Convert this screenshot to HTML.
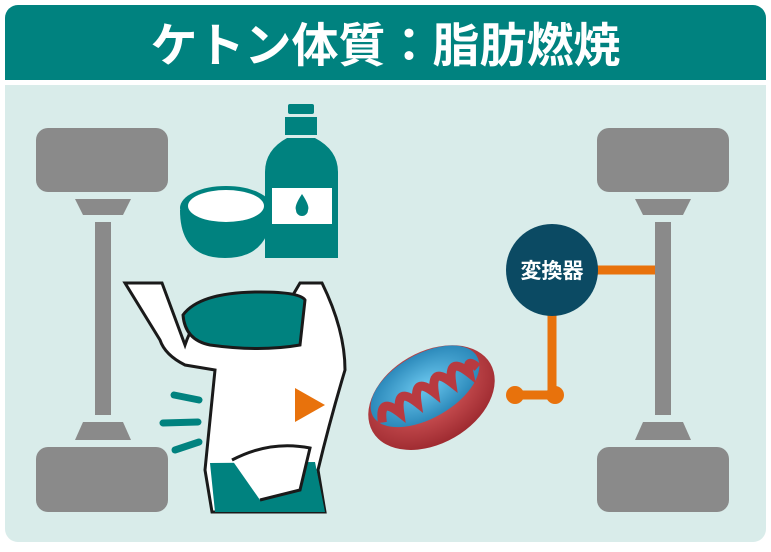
<!DOCTYPE html>
<html><head><meta charset="utf-8"><style>
html,body{margin:0;padding:0;background:#fff;}
body{width:771px;height:547px;overflow:hidden;position:relative;font-family:"Liberation Sans","Noto Sans CJK JP",sans-serif;}
</style></head><body>
<svg width="771" height="547" viewBox="0 0 771 547" xmlns="http://www.w3.org/2000/svg">
<defs>
<radialGradient id="mr" cx="0.5" cy="0.4" r="0.6"><stop offset="0" stop-color="#e86a6a"/><stop offset="1" stop-color="#9e2a30"/></radialGradient>
<radialGradient id="mb" cx="0.5" cy="0.5" r="0.6"><stop offset="0" stop-color="#6cc8ef"/><stop offset="1" stop-color="#1f7db0"/></radialGradient>
</defs>
<rect x="5" y="5" width="761" height="537" rx="13" fill="#d9ecea"/>
<path d="M5 80 V18 a13 13 0 0 1 13 -13 H753 a13 13 0 0 1 13 13 V80 Z" fill="#00827f"/>
<rect x="5" y="80" width="761" height="5" fill="#fff"/>
<text x="385.5" y="62" text-anchor="middle" font-size="47" font-weight="bold" fill="#fff" font-family="Liberation Sans,Noto Sans CJK JP,sans-serif">ケトン体質：脂肪燃焼</text>
<g fill="#8a8a8a">
<rect x="36" y="128" width="132" height="64" rx="12"/>
<polygon points="75,199 131,199 123,215 83,215"/>
<rect x="95" y="222" width="16" height="193"/>
<polygon points="83,422 123,422 131,440 75,440"/>
<rect x="36" y="447" width="132" height="65" rx="12"/>
<rect x="597" y="128" width="132" height="64" rx="12"/>
<polygon points="635,199 691,199 683,215 643,215"/>
<rect x="655" y="222" width="16" height="193"/>
<polygon points="643,422 683,422 691,440 635,440"/>
<rect x="597" y="447" width="132" height="65" rx="12"/>
</g>
<g stroke="#e8720c" stroke-width="9" fill="none">
<line x1="590" y1="270" x2="655" y2="270"/>
<polyline points="552,310 552,395 515,395"/>
</g>
<circle cx="515" cy="395" r="9" fill="#e8720c"/>
<circle cx="555" cy="395" r="9" fill="#e8720c"/>
<circle cx="552" cy="270" r="46" fill="#0b4a63"/>
<text x="552" y="278" text-anchor="middle" font-size="21" font-weight="bold" fill="#fff">変換器</text>
<path d="M180 210 Q180 258 225 258 Q270 258 272 210 Z" fill="#00827f"/>
<ellipse cx="226" cy="208" rx="46" ry="22" fill="#00827f"/>
<ellipse cx="226" cy="206" rx="38" ry="16" fill="#fff"/>
<rect x="288" y="104" width="26" height="10" rx="2" fill="#00827f"/>
<rect x="285" y="117" width="32" height="18" fill="#00827f"/>
<path d="M287 138 H315 Q338 150 338 172 V258 H265 V172 Q265 150 287 138Z" fill="#00827f"/>
<rect x="268" y="184" width="68" height="44" fill="#00827f"/>
<rect x="272" y="188" width="60" height="36" fill="#fff"/>
<path d="M302 194 Q294 206 296 210 a6 6 0 0 0 12 0 Q310 206 302 194Z" fill="#00827f"/>
<!-- woman -->
<path d="M125 283 L162 283 L185 345 Q200 300 240 300 L290 300 L300 283 L322 283 Q345 330 345 370 Q330 420 318 470 L325 512 H212 L205 470 Q210 420 215 370 L185 365 Q165 355 160 340 Z" fill="#fff" stroke="#1a1a1a" stroke-width="3"/>
<path d="M183 315 Q200 292 260 292 Q300 292 305 300 L300 345 Q260 352 210 345 Q185 340 183 315Z" fill="#00827f" stroke="#1a1a1a" stroke-width="3"/>
<path d="M210 463 L315 462 L325 512 H215Z" fill="#00827f"/>
<path d="M232 460 Q270 440 310 448 L300 490 Q280 495 260 500" fill="#fff" stroke="#1a1a1a" stroke-width="3"/>
<polygon points="295,388 325,405 295,422" fill="#e8720c"/>
<g stroke="#00827f" stroke-width="7" stroke-linecap="round">
<line x1="174" y1="395" x2="199" y2="400"/>
<line x1="163" y1="423" x2="198" y2="422"/>
<line x1="175" y1="450" x2="199" y2="442"/>
</g>
<g transform="rotate(-30 430 395)">
<ellipse cx="430" cy="398" rx="68" ry="46" fill="url(#mr)"/>
<ellipse cx="430" cy="385" rx="60" ry="32" fill="url(#mb)"/>
<path d="M375 395 q10 -25 20 0 q10 -25 20 0 q10 -25 20 0 q10 -25 20 0 q10 -25 20 0 q5 -15 10 0" stroke="#b83a40" stroke-width="9" fill="none"/>
</g>
</svg>
</body></html>
